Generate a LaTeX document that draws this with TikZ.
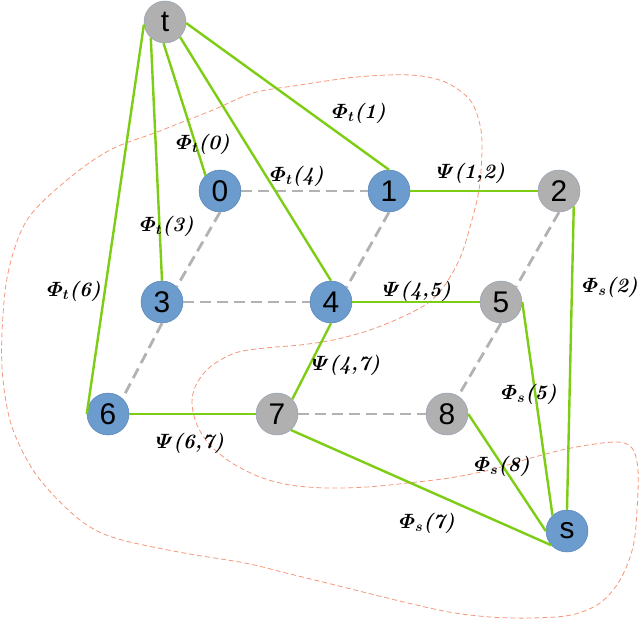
\documentclass[tikz,border=0pt]{standalone}
\usepackage{fontspec}
\usepackage{amsmath}
\usepackage{bm}
\newfontfamily\nodefont{Liberation Sans}
\definecolor{nodeblue}{RGB}{108,155,205}
\definecolor{blueedge}{RGB}{88,132,185}
\definecolor{nodegray}{RGB}{176,176,176}
\definecolor{grayedge}{RGB}{150,160,180}
\definecolor{edgegreen}{RGB}{125,205,20}
\definecolor{dashgray}{RGB}{178,178,178}
\definecolor{cutorange}{RGB}{245,150,120}
\tikzset{
  vbase/.style={circle, minimum size=42bp, inner sep=0pt, font=\nodefont\fontsize{30}{30}\selectfont, line width=0.5bp},
  bnode/.style={vbase, fill=nodeblue, draw=blueedge},
  gnode/.style={vbase, fill=nodegray, draw=grayedge},
  glink/.style={draw=edgegreen, line width=2.4bp},
  dlink/.style={draw=dashgray, line width=2.8bp, dash pattern=on 11bp off 6bp},
  cutline/.style={draw=cutorange, line width=0.8bp, dash pattern=on 5bp off 3bp},
  lbl/.style={inner sep=0pt, font=\fontsize{20.5}{21}\selectfont}
}
\newcommand{\Phit}[1]{$\bm{\varPhi_{t}}$\textbf{\textit{(#1)}}}
\newcommand{\Phis}[1]{$\bm{\varPhi_{s}}$\textbf{\textit{(#1)}}}
\newcommand{\Psil}[1]{$\bm{\varPsi}$\textbf{\textit{(#1)}}}
\begin{document}
\begin{tikzpicture}[x=1bp,y=-1bp]
\useasboundingbox (0,0) rectangle (640,619);
% cut curve
\draw[cutline] plot[smooth cycle, tension=0.55] coordinates {
(2,333) (8,273) (27,220) (67,180) (110,150) (157,132) (213,110) (253,93) (300,85) (357,77) (410,75) (445,82) (470,100) (480,125) (482,150) (479,190) (470,227) (460,258) (445,285) (428,303) (400,318) (367,331) (333,340) (300,345) (265,348) (235,353) (210,367) (196,385) (192,403) (197,425) (210,445) (232,463) (260,477) (290,485) (327,488) (367,487) (408,483) (449,478) (490,470) (531,458) (571,448) (615,442) (632,448) (638,470) (637,510) (633,547) (620,580) (600,603) (571,615) (531,618) (490,617) (449,612) (408,603) (367,593) (327,583) (286,573) (245,563) (184,553) (122,540) (90,527) (61,503) (33,470) (12,427) (3,380)};
% nodes
\node[gnode] (t) at (165,22) {t};
\node[bnode] (n0) at (220,191) {0};
\node[bnode] (n1) at (389,191) {1};
\node[gnode] (n2) at (559,191) {2};
\node[bnode] (n3) at (162,302) {3};
\node[bnode] (n4) at (331,302) {4};
\node[gnode] (n5) at (501,302) {5};
\node[bnode] (n6) at (108,414) {6};
\node[gnode] (n7) at (277,414) {7};
\node[gnode] (n8) at (447,414) {8};
\node[bnode] (s) at (567,531) {s};
% dashed links
\draw[dlink] (n0.east) -- (n1.west);
\draw[dlink] (n0.south) -- (n3.46);
\draw[dlink] (n3.east) -- (n4.west);
\draw[dlink] (n3.south) -- (n6.47);
\draw[dlink] (n1.south) -- (n4.43);
\draw[dlink] (n2.south) -- (n5.45);
\draw[dlink] (n5.south) -- (n8.58);
\draw[dlink] (n7.east) -- (n8.west);
% green links
\draw[glink] (t.187) -- (n6.west);
\draw[glink] (t.228) -- (n3.north);
\draw[glink] (t.266) -- (n0.133);
\draw[glink] (t.315) -- (n4.north);
\draw[glink] (t.357) -- (n1.north);
\draw[glink] (n1.east) -- (n2.west);
\draw[glink] (n4.east) -- (n5.west);
\draw[glink] (n6.east) -- (n7.west);
\draw[glink] (n4.south) -- (n7.44);
\draw[glink] (n2.314) -- (s.north);
\draw[glink] (n5.east) -- (s.133);
\draw[glink] (n8.east) -- (s.west);
\draw[glink] (n7.311) -- (s.222);
% labels
\node[lbl] (l0) at (203,144) {\Phit{0}};
\node[lbl] (l1) at (359,113) {\Phit{1}};
\node[lbl] (l4) at (297,176) {\Phit{4}};
\node[lbl] (l3) at (167,226) {\Phit{3}};
\node[lbl] (l6) at (74,291) {\Phit{6}};
\node[lbl] (p12) at (471,173) {\Psil{1,2}};
\node[lbl] (p45) at (417,291) {\Psil{4,5}};
\node[lbl] (p47) at (346,365) {\Psil{4,7}};
\node[lbl] (p67) at (190,443) {\Psil{6,7}};
\node[lbl, anchor=east] (s2) at (638,287) {\Phis{2}};
\node[lbl] (s5) at (529,394) {\Phis{5}};
\node[lbl] (s8) at (502,466) {\Phis{8}};
\node[lbl] (s7) at (427,523) {\Phis{7}};
\end{tikzpicture}
\end{document}
